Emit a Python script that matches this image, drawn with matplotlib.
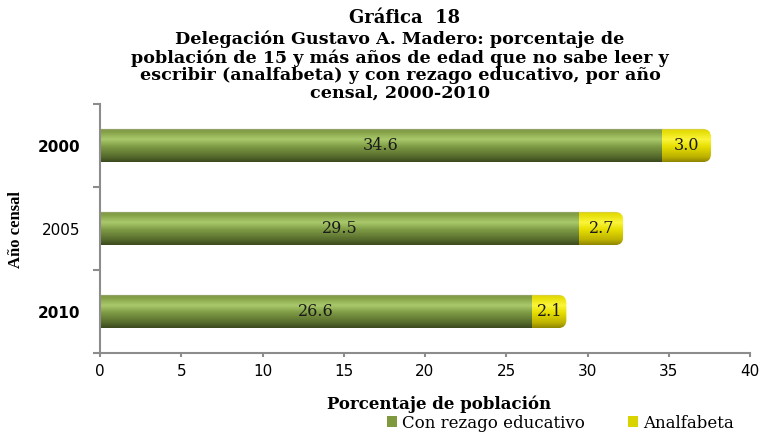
import numpy as np
import matplotlib
matplotlib.use('Agg')
from matplotlib import pyplot as plt
from matplotlib.patches import FancyBboxPatch, Patch
from matplotlib.colors import LinearSegmentedColormap

#################################
# Data
years = ['2000', '2005', '2010']
rezago = [34.6, 29.5, 26.6]
analfabeta = [3.0, 2.7, 2.1]
xticks = [0, 5, 10, 15, 20, 25, 30, 35, 40]
#################################

title_num = 'Gráfica  18'
title = ('Delegación Gustavo A. Madero: porcentaje de\n'
         'población de 15 y más años de edad que no sabe leer y\n'
         'escribir (analfabeta) y con rezago educativo, por año\n'
         'censal, 2000-2010')

# gradients (top -> bottom), cylinder look
green_cm = LinearSegmentedColormap.from_list('g', [
    (0.0, '#a4ab8a'), (0.07, '#7f9a42'), (0.33, '#a9c96b'),
    (0.55, '#7e9a44'), (0.85, '#556a2c'), (1.0, '#3c4a1e')])
yellow_cm = LinearSegmentedColormap.from_list('y', [
    (0.0, '#cfc870'), (0.07, '#e3db00'), (0.33, '#fbf53a'),
    (0.55, '#e6de00'), (0.85, '#bdb200'), (1.0, '#8f8600')])
grad = np.linspace(0, 1, 64).reshape(-1, 1)

fig = plt.figure(figsize=[7.65, 4.36], dpi=100)
ax = fig.add_axes([100/765, 1-353/436, 650/765, 249/436])

h = 0.40
ypos = np.arange(len(years))

for i in ypos:
    g = rezago[i]
    a = analfabeta[i]
    tot = g + a
    clip = FancyBboxPatch((-2, i-h/2), tot+2, h,
                          boxstyle='round,pad=0,rounding_size=0.5',
                          mutation_aspect=0.2, transform=ax.transData,
                          facecolor='none', edgecolor='none')
    ax.add_patch(clip)
    im1 = ax.imshow(grad, cmap=green_cm, aspect='auto',
                    extent=(0, g, i+h/2, i-h/2), interpolation='bilinear', zorder=2)
    im1.set_clip_path(clip)
    im2 = ax.imshow(grad, cmap=yellow_cm, aspect='auto',
                    extent=(g, tot, i+h/2, i-h/2), interpolation='bilinear', zorder=2)
    im2.set_clip_path(clip)
    ax.text(g/2, i, '%.1f' % g, ha='center', va='center', fontsize=11.5,
            family='DejaVu Serif', color='#1a1a1a', zorder=3)
    ax.text(g + a/2, i, '%.1f' % a, ha='center', va='center', fontsize=11.5,
            family='DejaVu Serif', color='#1a1a1a', zorder=3)

ax.set_xlim(0, 40)
ax.set_ylim(len(years)-0.5, -0.5)

for s in ['top', 'right']:
    ax.spines[s].set_visible(False)
for s in ['left', 'bottom']:
    ax.spines[s].set_color('#8c8c8c')
    ax.spines[s].set_linewidth(1.5)

ax.set_xticks(xticks)
ax.set_xticklabels([str(x) for x in xticks], family='DejaVu Sans', fontsize=11)
ax.tick_params(axis='x', length=3, color='#8c8c8c', width=1.5, pad=5)
ax.set_yticks(ypos)
ax.set_yticklabels(years, family='DejaVu Sans', fontsize=11)
for lab, yr in zip(ax.get_yticklabels(), years):
    if yr != '2005':
        lab.set_fontweight('bold')
ax.tick_params(axis='y', length=0, pad=14)
ax.set_yticks(np.arange(len(years)+1)-0.5, minor=True)
ax.tick_params(axis='y', which='minor', length=5, color='#8c8c8c', width=1.5)

fig.text(405/765, 1-18/436, title_num, ha='center', va='center', fontsize=13,
         fontweight='bold', family='DejaVu Serif')
fig.text(400/765, 1-31/436, title, ha='center', va='top', fontsize=12.6,
         fontweight='bold', family='DejaVu Serif', linespacing=1.05)
fig.text(16/765, 1-230/436, 'Año censal', rotation=90, ha='center', va='center',
         fontsize=12, fontweight='bold', family='Liberation Serif')
fig.text(439/765, 1-404/436, 'Porcentaje de población', ha='center', va='center',
         fontsize=12, fontweight='bold', family='DejaVu Serif')

handles = [Patch(facecolor='#7f9a3e', edgecolor='none', label='Con rezago educativo'),
           Patch(facecolor='#d9d400', edgecolor='none', label='Analfabeta')]
fig.legend(handles=handles, loc='center', bbox_to_anchor=(560/765, 1-423/436),
           ncol=2, frameon=False, prop={'family': 'DejaVu Serif', 'size': 12},
           handlelength=0.6, handleheight=0.6, handletextpad=0.3, columnspacing=2.6)

plt.savefig('out.png', dpi=100)
